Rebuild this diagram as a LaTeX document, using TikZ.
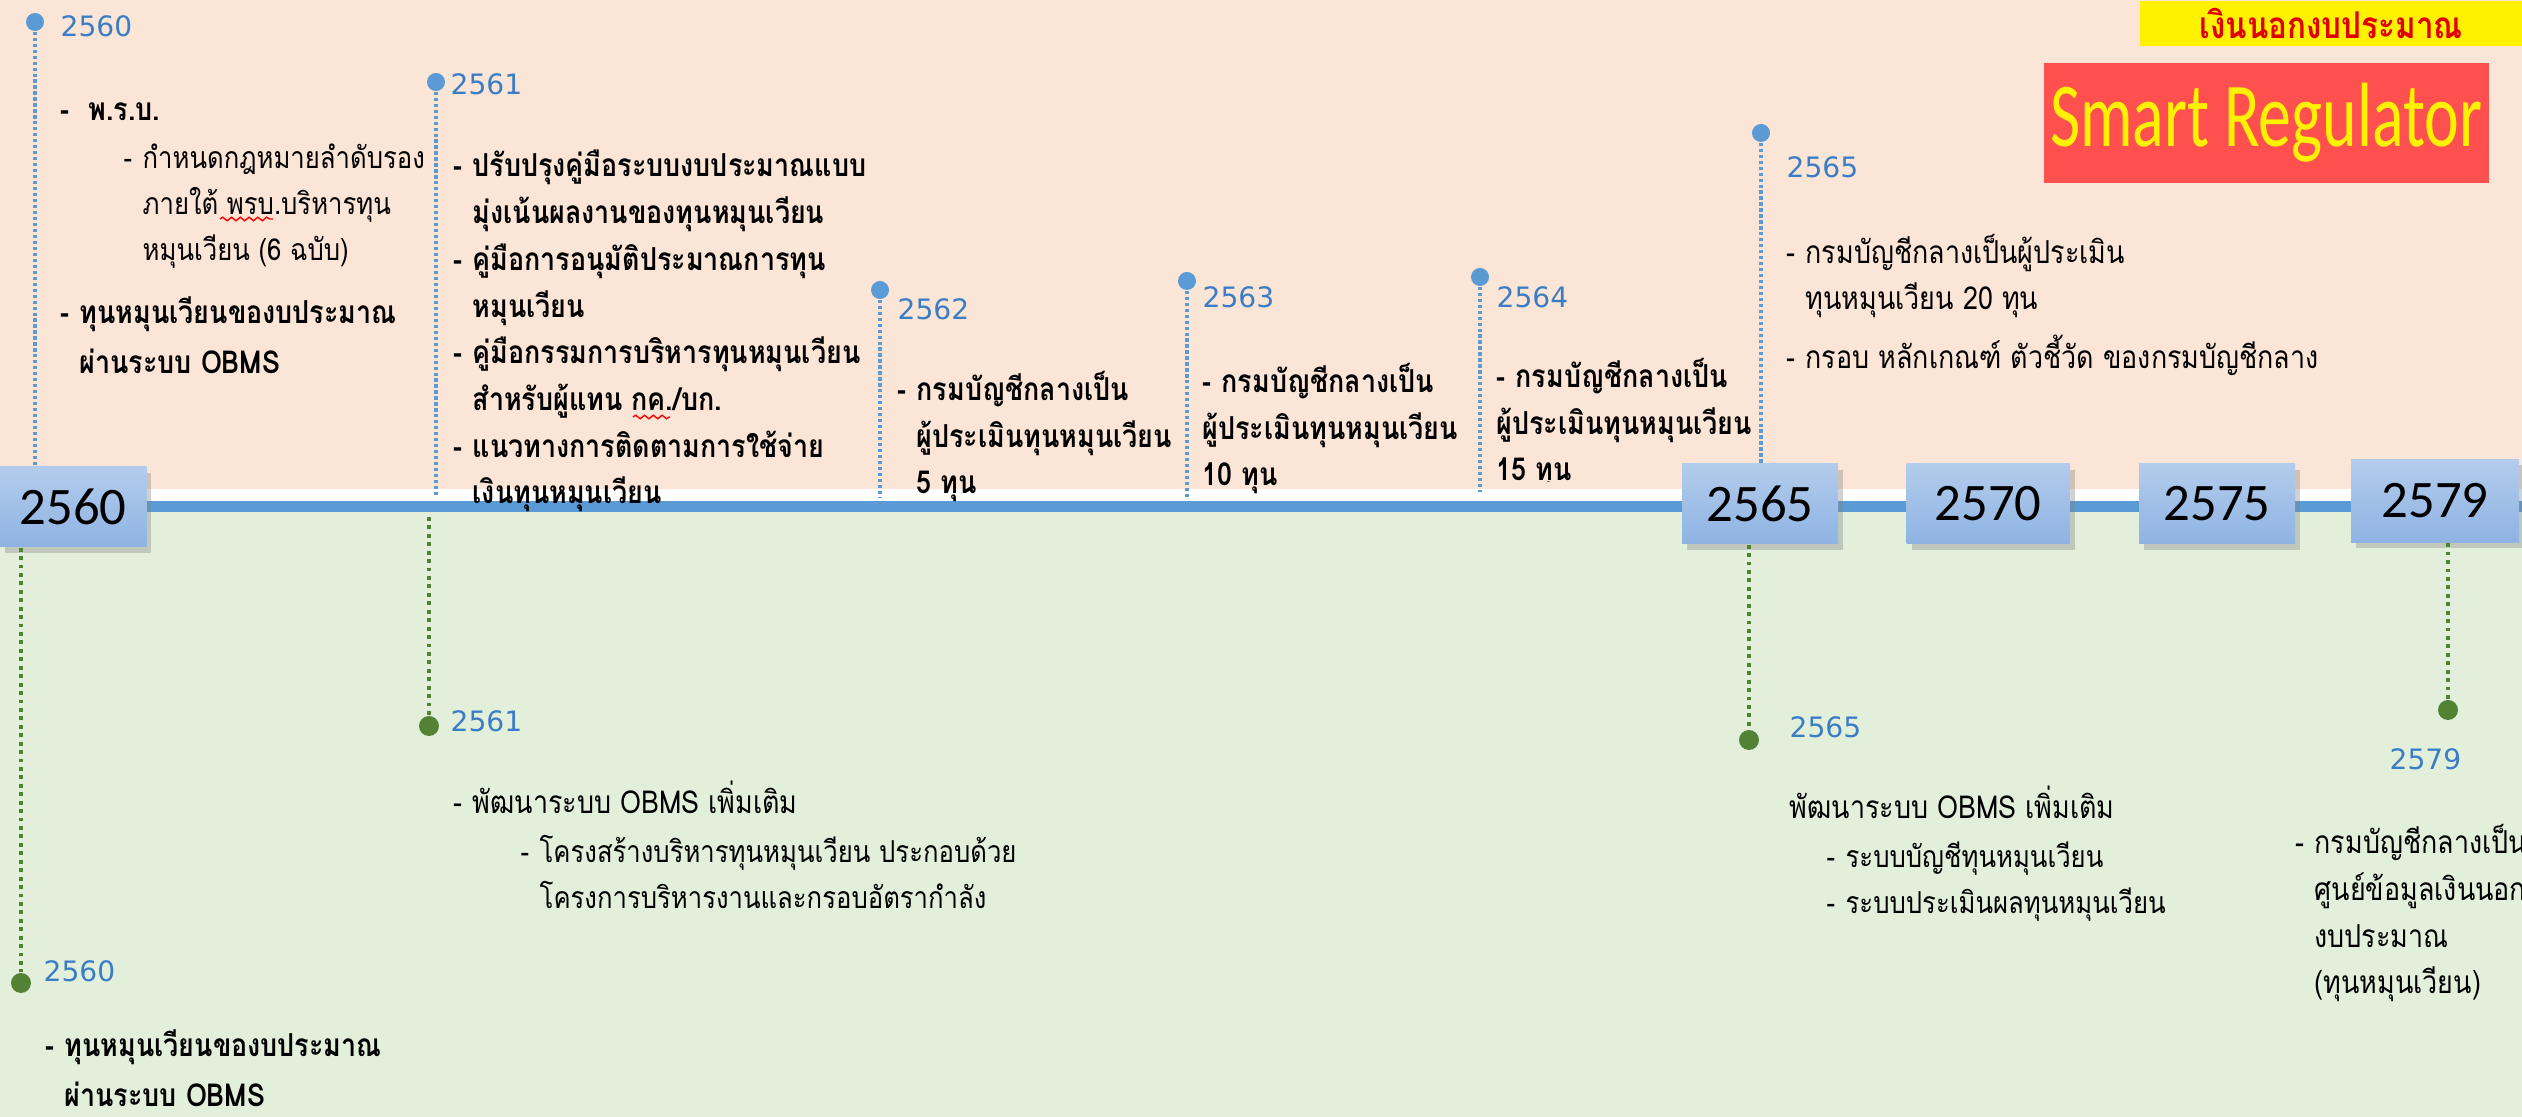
\documentclass[tikz,border=0pt]{standalone}
\usepackage{fontspec}
\usepackage{tikz}
\usetikzlibrary{shadows,decorations.pathmorphing}

\newfontfamily\thaifont[Script=Thai, FakeStretch=0.85]{Loma}
\newfontfamily\numfont{Carlito}
\newfontfamily\yearfont{DejaVu Sans}

\definecolor{peachbg}{HTML}{FBE5D6}
\definecolor{mintbg}{HTML}{E2EFDA}
\definecolor{lineblue}{HTML}{5B9BD5}
\definecolor{yeartext}{HTML}{3B7DC4}
\definecolor{dotgreen}{HTML}{548235}
\definecolor{boxtop}{HTML}{B3CCEC}
\definecolor{boxbot}{HTML}{8EB3E3}
\definecolor{regred}{HTML}{FF5050}
\definecolor{tagred}{HTML}{E00000}

\newcommand{\tdash}{\makebox[1.9mm][l]{-}}
\newcommand{\tind}{\hspace*{1.9mm}}

\tikzset{
    yearbox/.style={rectangle, top color=boxtop, bottom color=boxbot, inner sep=0,
        minimum width=15.6mm, minimum height=8mm, font=\numfont\fontsize{15}{17}\selectfont,
        drop shadow={shadow xshift=0.5mm, shadow yshift=-0.6mm, opacity=0.35}},
    toppin/.style={circle, fill=lineblue, minimum size=1.8mm, inner sep=0},
    botpin/.style={circle, fill=dotgreen, minimum size=2mm, inner sep=0},
    topline/.style={lineblue, line width=1.1pt, dash pattern=on 0.9pt off 0.8pt},
    botline/.style={dotgreen, line width=1.2pt, dash pattern=on 1.1pt off 1.3pt},
    yearlbl/.style={anchor=base west, inner sep=0, text=yeartext, font=\yearfont\fontsize{8}{10}\selectfont},
    topitem/.style={anchor=base west, align=left, inner sep=0, font=\thaifont\bfseries\fontsize{9}{13.3}\selectfont},
    plainitem/.style={anchor=base west, align=left, inner sep=0, font=\thaifont\fontsize{9}{13.3}\selectfont},
    subitem/.style={anchor=base west, align=left, inner sep=0, font=\thaifont\fontsize{8.6}{13.1}\selectfont},
    squiggle/.style={red, line width=0.4pt, decorate, decoration={snake, amplitude=0.5pt, segment length=2.5pt}}
}

\begin{document}
\begin{tikzpicture}[x=0.1mm, y=-0.1mm]
    \useasboundingbox (0,0) rectangle (2522,1117);
    \clip (0,0) rectangle (2522,1117);

    % Background bands
    \fill[peachbg] (0,0) rectangle (2522,489);
    \fill[white] (0,489) rectangle (2522,501);
    \fill[lineblue] (0,501) rectangle (2522,512);
    \fill[mintbg] (0,512) rectangle (2522,1117);

    % Tags
    \node[fill=yellow, anchor=north west, minimum width=38.3mm, minimum height=4.5mm, inner sep=0,
          text=tagred, font=\thaifont\bfseries\fontsize{10.5}{13}\selectfont] (tag) at (2139,0) {เงินนอกงบประมาณ};
    \node[fill=regred, minimum width=44.5mm, minimum height=12mm, inner sep=0, text=yellow,
          font=\numfont\fontsize{26}{30}\selectfont] (smart) at (2266,123) {\scalebox{0.72}[1]{Smart Regulator}};

    % Year boxes
    \node[yearbox, minimum width=14.7mm] (b2560) at (73,507) {2560};
    \node[yearbox] (b2565) at (1760,504) {2565};
    \node[yearbox, minimum width=16.3mm] (b2570) at (1988,504) {2570};
    \node[yearbox] (b2575) at (2217,504) {2575};
    \node[yearbox, minimum width=16.8mm, minimum height=8.3mm] (b2579) at (2435,501) {2579};

    % Upper markers
    \node[toppin] (p2560) at (35,22) {};
    \node[toppin] (p2561) at (436,82) {};
    \node[toppin] (p2562) at (880,290) {};
    \node[toppin] (p2563) at (1187,281) {};
    \node[toppin] (p2564) at (1480,277) {};
    \node[toppin] (p2565) at (1761,133) {};
    \coordinate (e2561) at (436,497);
    \coordinate (e2562) at (880,497);
    \coordinate (e2563) at (1187,497);
    \coordinate (e2564) at (1480,492);
    \draw[topline] (p2560) -- (p2560 |- b2560.north);
    \draw[topline] (p2561) -- (e2561);
    \draw[topline] (p2562) -- (e2562);
    \draw[topline] (p2563) -- (e2563);
    \draw[topline] (p2564) -- (e2564);
    \draw[topline] (p2565) -- (p2565 |- b2565.north);

    % Lower markers
    \node[botpin] (g2560) at (21,983) {};
    \node[botpin] (g2561) at (429,726) {};
    \node[botpin] (g2565) at (1749,740) {};
    \node[botpin] (g2579) at (2448,710) {};
    \coordinate (s2561) at (429,517);
    \draw[botline] (g2560 |- b2560.south) -- (g2560);
    \draw[botline] (s2561) -- (g2561);
    \draw[botline] (g2565 |- b2565.south) -- (g2565);
    \draw[botline] (g2579 |- b2579.south) -- (g2579);

    % Upper labels (multi-line nodes sit on their last line)
    \node[yearlbl] (l2560) at (60,37) {2560};
    \node[topitem] (t2560a) at (60,121) {\tdash\ พ.ร.บ.};
    \node[subitem] (t2560b) at (123,261) {\tdash กำหนดกฎหมายลำดับรอง\\\tind ภายใต้ พรบ.บริหารทุน\\\tind หมุนเวียน (6 ฉบับ)};
    \node[topitem] (t2560c) at (60,374) {\tdash ทุนหมุนเวียนของบประมาณ\\[1pt]\tind ผ่านระบบ OBMS};

    \node[yearlbl] (l2561) at (450,95) {2561};
    \node[topitem] (t2561) at (453,504) {\tdash ปรับปรุงคู่มือระบบงบประมาณแบบ\\\tind มุ่งเน้นผลงานของทุนหมุนเวียน\\\tdash คู่มือการอนุมัติประมาณการทุน\\\tind หมุนเวียน\\\tdash คู่มือกรรมการบริหารทุนหมุนเวียน\\\tind สำหรับผู้แทน กค./บก.\\\tdash แนวทางการติดตามการใช้จ่าย\\\tind เงินทุนหมุนเวียน};

    \node[yearlbl] (l2562) at (897,320) {2562};
    \node[topitem] (t2562) at (897,494) {\tdash กรมบัญชีกลางเป็น\\\tind ผู้ประเมินทุนหมุนเวียน\\\tind 5 ทุน};

    \node[yearlbl] (l2563) at (1202,308) {2563};
    \node[topitem] (t2563) at (1202,486) {\tdash กรมบัญชีกลางเป็น\\ผู้ประเมินทุนหมุนเวียน\\10 ทุน};

    \node[yearlbl] (l2564) at (1496,308) {2564};
    \begin{scope}
        \clip (1490,300) rectangle (1790,482);
        \node[topitem] (t2564) at (1496,481) {\tdash กรมบัญชีกลางเป็น\\ผู้ประเมินทุนหมุนเวียน\\15 ทุน};
    \end{scope}

    \node[yearlbl] (l2565) at (1786,178) {2565};
    \node[plainitem] (t2565) at (1786,369) {\tdash กรมบัญชีกลางเป็นผู้ประเมิน\\\tind ทุนหมุนเวียน 20 ทุน\\[3.5pt]\tdash กรอบ หลักเกณฑ์ ตัวชี้วัด ของกรมบัญชีกลาง};

    % Spelling marks
    \draw[squiggle] (220,219) -- (273,219);
    \draw[squiggle] (633,417) -- (670,417);

    % Lower labels
    \node[yearlbl] (m2560) at (43,982) {2560};
    \node[topitem] (u2560) at (45,1107) {\tdash ทุนหมุนเวียนของบประมาณ\\[1pt]\tind ผ่านระบบ OBMS};

    \node[yearlbl] (m2561) at (450,732) {2561};
    \node[plainitem] (u2561a) at (453,814) {\tdash พัฒนาระบบ OBMS เพิ่มเติม};
    \node[subitem] (u2561b) at (520,909) {\tdash โครงสร้างบริหารทุนหมุนเวียน ประกอบด้วย\\\tind โครงการบริหารงานและกรอบอัตรากำลัง};

    \node[yearlbl] (m2565) at (1789,738) {2565};
    \node[plainitem] (u2565a) at (1789,819) {พัฒนาระบบ OBMS เพิ่มเติม};
    \node[subitem] (u2565b) at (1826,914) {\tdash ระบบบัญชีทุนหมุนเวียน\\\tdash ระบบประเมินผลทุนหมุนเวียน};

    \node[yearlbl] (m2579) at (2389,770) {2579};
    \node[plainitem] (u2579) at (2295,994) {\tdash กรมบัญชีกลางเป็น\\\tind ศูนย์ข้อมูลเงินนอก\\\tind งบประมาณ\\\tind (ทุนหมุนเวียน)};

\end{tikzpicture}
\end{document}
